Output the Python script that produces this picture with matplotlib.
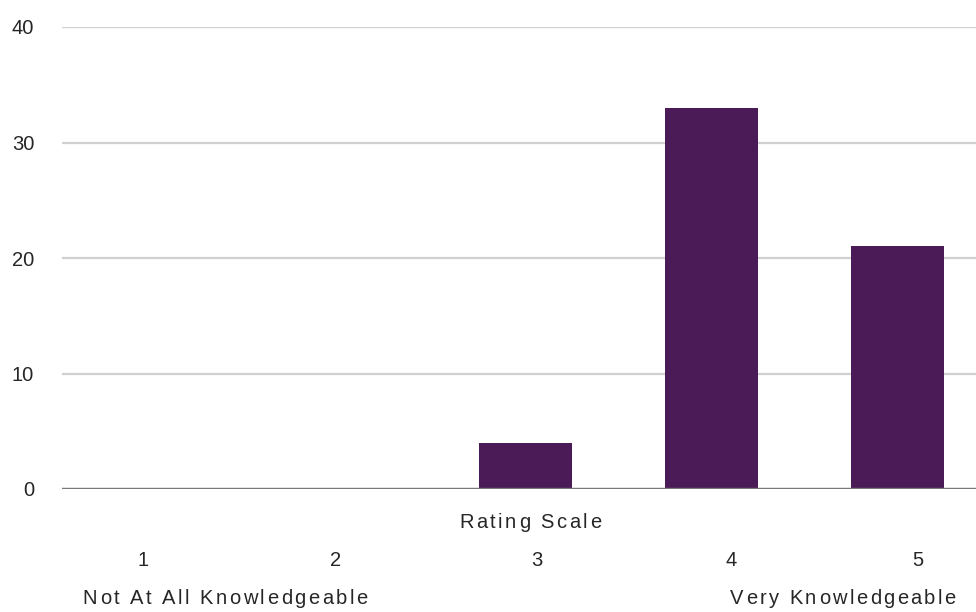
import matplotlib
matplotlib.use('Agg')
import matplotlib.pyplot as plt
from matplotlib.textpath import TextToPath
from matplotlib.font_manager import FontProperties

# survey responses per rating
ratings = [1, 2, 3, 4, 5]
counts = [0, 0, 4, 33, 21]
rating_labels = ['1', '2', '3', '4', '5']
yticks = [0, 10, 20, 30, 40]
axis_title = 'Rating Scale'
low_label = 'Not At All Knowledgeable'
high_label = 'Very Knowledgeable'

bar_color = '#4a1b56'
text_color = '#262626'
FS = 14.5
DPI = 100

plt.rcParams['font.family'] = ['Liberation Sans', 'DejaVu Sans']

fig = plt.figure(figsize=(9.76, 6.12), dpi=DPI)
ax = fig.add_axes([62 / 976, 1 - 489 / 612, 1 - 62 / 976, (489 - 27) / 612])

ax.bar(ratings, counts, width=0.5, color=bar_color, zorder=3)
ax.set_xlim(0.505, 5.42)
ax.set_ylim(0, 40)
ax.set_yticks(yticks)
ax.set_xticks([])
ax.grid(axis='y', color='#d0d0d0', linewidth=1.6, zorder=0)
ax.axhline(0, color='#7a7a7a', linewidth=2.4, zorder=4)
for s in ax.spines.values():
    s.set_visible(False)
ax.tick_params(axis='y', length=0, pad=20, labelsize=FS, labelcolor=text_color)

prop = FontProperties(family='Liberation Sans', size=FS)
t2p = TextToPath()


def spaced_text(xp, yp, s, gap):
    # letter-spaced text, centred on (xp, yp) in pixels from top-left
    widths = []
    for ch in s:
        w, h, d = t2p.get_text_width_height_descent(ch, prop, ismath=False)
        widths.append(w * DPI / 72)
    total = sum(widths) + gap * (len(s) - 1)
    x = xp - total / 2
    for ch, w in zip(s, widths):
        fig.text(x / 976, 1 - yp / 612, ch, ha='left', va='center',
                 fontproperties=prop, color=text_color)
        x += w + gap


spaced_text(530, 523, axis_title, 2.5)
for lab, xp in zip(rating_labels, [143, 336, 537, 731, 918]):
    spaced_text(xp, 560, lab, 0)
spaced_text(225, 598, low_label, 2.5)
spaced_text(843, 598, high_label, 2.4)

fig.savefig('out.png', dpi=DPI, facecolor='white')
